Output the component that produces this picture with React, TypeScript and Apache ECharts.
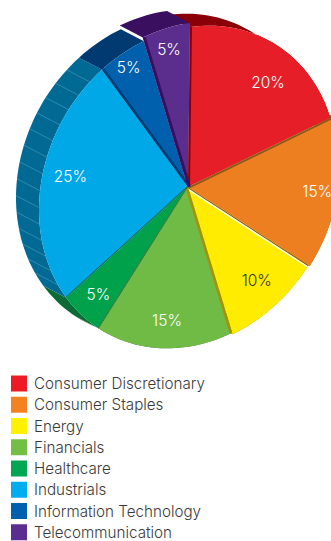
import React, { useEffect, useRef } from "react";
import * as echarts from "echarts";

// Sector weights in percent, clockwise from twelve o'clock.
const categories = [
  "Consumer Discretionary",
  "Consumer Staples",
  "Energy",
  "Financials",
  "Healthcare",
  "Industrials",
  "Information Technology",
  "Telecommunication",
];
const shares = [20, 15, 10, 15, 5, 25, 5, 5];

const faceColors = ["#e61e27", "#ee7f20", "#ffec00", "#70ba46", "#00a14b", "#00a8e8", "#0060ae", "#5b2d8c"];
const legendColors = ["#ed1c24", "#f58220", "#fff200", "#72bf44", "#00a651", "#00aeef", "#005fae", "#5c2d91"];
const wallColors = ["#8a0008", "#8a5a1a", "#a89200", "#4a7a30", "#0a6b35", "#006a94", "#003a70", "#3a0f5f"];
const labelColors = ["#fff", "#fff", "#33300a", "#fff", "#fff", "#fff", "#fff", "#fff"];

// Per-slice drawing details: side wall thickness, rim pull, hatching, label placement.
const edgeWidths = [2, 2, 1.2, 2.6, 1, 1, 2.6, 3];
const rimScale = [1, 1.02, 1.01, 1, 1, 1, 1, 1.025];
const hatchCounts = [0, 0, 0, 0, 0, 14, 0, 0];
const labelRadius = [0.79, 0.88, 0.8, 0.83, 0.84, 0.81, 0.9, 0.89];
const labelTurn = [6, 0, 0, 0, 0, 3, 0, 0];

// Tilted pie: the unit circle goes through a shear around the apex.
const APEX = [188, 187];
const EXTRUDE = [-23, -12];
const project = (deg: number, r = 1): number[] => {
  const a = (deg * Math.PI) / 180;
  const X = Math.sin(a) * r;
  const Y = -Math.cos(a) * r;
  return [APEX[0] + 149 * X - 2 * Y, APEX[1] - 20.6 * X + 160 * Y];
};
const arc = (from: number, to: number, r = 1, shift = [0, 0]): number[][] => {
  const n = Math.max(2, Math.ceil(Math.abs(to - from) / 2));
  const pts: number[][] = [];
  for (let i = 0; i <= n; i++) {
    const p = project(from + ((to - from) * i) / n, r);
    pts.push([p[0] + shift[0], p[1] + shift[1]]);
  }
  return pts;
};

const starts: number[] = [];
shares.reduce((sum, v, i) => {
  starts[i] = sum;
  return sum + v;
}, 0);
const rows = shares.map((v, i) => [starts[i], v, i]);
const toDeg = (pct: number) => pct * 3.6;

// Outer walls and their hatching.
const renderWall = (_: any, api: any) => {
  const i = api.value(2);
  const a = toDeg(api.value(0));
  const b = toDeg(api.value(0) + api.value(1));
  const r = rimScale[i];
  const kids: any[] = [
    {
      type: "polygon",
      shape: { points: [...arc(a, b, r), ...arc(b, a, r, EXTRUDE)] },
      style: { fill: wallColors[i] },
    },
  ];
  for (let k = 1; k <= hatchCounts[i]; k++) {
    const d = a + ((b - a) * k) / (hatchCounts[i] + 1);
    const p = project(d, r);
    kids.push({
      type: "line",
      shape: { x1: p[0], y1: p[1], x2: p[0] + EXTRUDE[0], y2: p[1] + EXTRUDE[1] },
      style: { stroke: "rgba(170,215,235,0.4)", lineWidth: 0.7 },
    });
  }
  return { type: "group", children: kids };
};

const renderFace = (_: any, api: any) => {
  const i = api.value(2);
  const a = toDeg(api.value(0));
  const b = toDeg(api.value(0) + api.value(1));
  return {
    type: "polygon",
    shape: { points: [APEX, ...arc(a, b, rimScale[i])] },
    style: { fill: faceColors[i] },
  };
};

// Inner side walls, seen as narrow strips along each slice's leading radius.
const renderEdge = (_: any, api: any) => {
  const i = api.value(2);
  const a = toDeg(api.value(0));
  const p = project(a, rimScale[i]);
  const u = p[0] - APEX[0];
  const v = p[1] - APEX[1];
  const len = Math.hypot(u, v);
  const strip = (from: number, to: number, fill: string) => {
    const nx = -v / len;
    const ny = u / len;
    return {
      type: "polygon",
      shape: {
        points: [
          [APEX[0] + nx * from, APEX[1] + ny * from],
          [p[0] + nx * from, p[1] + ny * from],
          [p[0] + nx * to, p[1] + ny * to],
          [APEX[0] + nx * to, APEX[1] + ny * to],
        ],
      },
      style: { fill },
    };
  };
  const prev = (i + wallColors.length - 1) % wallColors.length;
  const kids: any[] = [];
  if (i === 2) {
    // Orange meets yellow across a brown wall and a hairline gap.
    kids.push(strip(0, edgeWidths[i], wallColors[1]));
    kids.push(strip(edgeWidths[i], edgeWidths[i] + 1.4, "#ffffff"));
  } else {
    const tone = i === 0 ? wallColors[0] : i === 1 ? wallColors[1] : wallColors[i === 6 ? 6 : prev];
    kids.push(strip(0, edgeWidths[i], i === 5 ? "#1a6a3a" : i === 7 ? wallColors[7] : tone));
  }
  return { type: "group", children: kids };
};

const renderLabel = (_: any, api: any) => {
  const i = api.value(2);
  const mid = toDeg(api.value(0) + api.value(1) / 2) + labelTurn[i];
  const p = project(mid, labelRadius[i]);
  return {
    type: "text",
    x: p[0],
    y: p[1],
    style: {
      text: `${api.value(1)}%`,
      fill: labelColors[i],
      font: "300 15.5px Inter, 'Noto Sans', sans-serif",
      align: "center",
      verticalAlign: "middle",
    },
  };
};

export default function App() {
  const ref = useRef<HTMLDivElement>(null);
  useEffect(() => {
    const chart = echarts.init(ref.current!, undefined, { renderer: "svg" });
    chart.setOption({
      animation: false,
      backgroundColor: "#ffffff",
      legend: {
        orient: "vertical",
        left: 11,
        top: 375.5,
        itemWidth: 16,
        itemHeight: 16,
        itemGap: 5.25,
        icon: "rect",
        selectedMode: false,
        padding: 0,
        textStyle: {
          color: "#3a3a3a",
          fontFamily: "Inter, 'Noto Sans', sans-serif",
          fontWeight: 300,
          fontSize: 15.2,
          padding: [0, 0, 0, 2],
        },
        data: categories.map((name, i) => ({ name, itemStyle: { color: legendColors[i] } })),
      },
      series: [
        { type: "custom", name: "walls", coordinateSystem: "none", silent: true, renderItem: renderWall, data: rows, z: 1 },
        ...categories.map((name, i) => ({
          type: "custom",
          name,
          coordinateSystem: "none",
          silent: true,
          itemStyle: { color: legendColors[i] },
          renderItem: renderFace,
          data: [rows[i]],
          z: 2,
        })),
        { type: "custom", name: "edges", coordinateSystem: "none", silent: true, renderItem: renderEdge, data: rows, z: 3 },
        { type: "custom", name: "labels", coordinateSystem: "none", silent: true, renderItem: renderLabel, data: rows, z: 4 },
      ],
    });
    return () => chart.dispose();
  }, []);
  return <div ref={ref} style={{ position: "absolute", left: 0, top: 0, width: 331, height: 541 }} />;
}
